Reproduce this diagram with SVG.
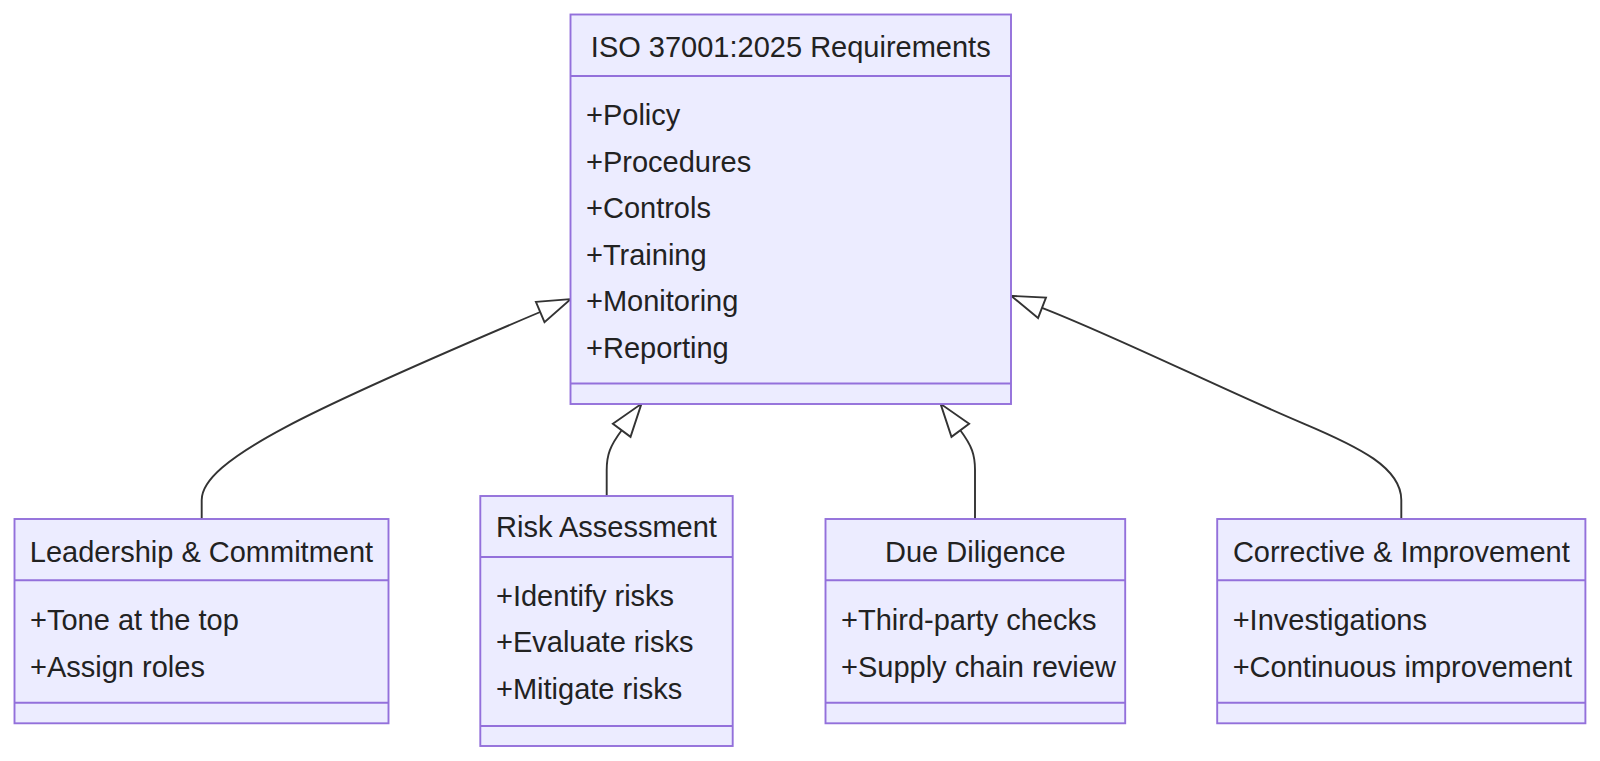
<svg xmlns="http://www.w3.org/2000/svg" width="1600" height="761" viewBox="0 0 1600 761">
<style>
.box{fill:#ECECFF;stroke:#9370DB;stroke-width:1.9}
.div{stroke:#9370DB;stroke-width:1.9}
.t{font-family:"Liberation Sans",Arial,sans-serif;font-size:29px;fill:#222}
.title{text-anchor:middle}
.edge{fill:none;stroke:#333;stroke-width:1.9}
</style>
<defs>
<marker id="ext" markerUnits="userSpaceOnUse" markerWidth="40" markerHeight="30" refX="2" refY="12" orient="auto" overflow="visible">
<path d="M2,1 L35,12 L2,23 Z" fill="#fff" stroke="#333" stroke-width="1.9" stroke-linejoin="miter"/>
</marker>
</defs>
<rect width="1600" height="761" fill="#fff"/>
<g id="connectors">
<path class="edge" d="M201.7,519 V500 C201.7,460 310.2,409.5 540.2,312" marker-end="url(#ext)"/>
<path class="edge" d="M606.7,496 V470 C606.7,455 610,446 621.7,430.3" marker-end="url(#ext)"/>
<path class="edge" d="M975,519 V470 C975,455 972,446 960.3,430.3" marker-end="url(#ext)"/>
<path class="edge" d="M1401.3,519 V500 C1401.3,468 1360,447.3 1303,423.3 C1223,389.7 1116.4,336.6 1042,307.8" marker-end="url(#ext)"/>
</g>
<g id="iso">
<rect class="box" x="570.5" y="14.5" width="440.5" height="389.5"/>
<line class="div" x1="570.5" y1="76" x2="1011" y2="76"/>
<line class="div" x1="570.5" y1="383.5" x2="1011" y2="383.5"/>
<text class="t title" x="790.75" y="56.7">ISO 37001:2025 Requirements</text>
<text class="t" x="586" y="125">+Policy</text>
<text class="t" x="586" y="171.5">+Procedures</text>
<text class="t" x="586" y="218">+Controls</text>
<text class="t" x="586" y="264.5">+Training</text>
<text class="t" x="586" y="311">+Monitoring</text>
<text class="t" x="586" y="357.5">+Reporting</text>
</g>
<g id="leadership">
<rect class="box" x="14.5" y="519" width="374" height="204.3"/>
<line class="div" x1="14.5" y1="580.3" x2="388.5" y2="580.3"/>
<line class="div" x1="14.5" y1="702.7" x2="388.5" y2="702.7"/>
<text class="t title" x="201.5" y="561.5">Leadership &amp; Commitment</text>
<text class="t" x="30" y="630">+Tone at the top</text>
<text class="t" x="30" y="676.5">+Assign roles</text>
</g>
<g id="risk">
<rect class="box" x="480.3" y="496" width="252.4" height="250"/>
<line class="div" x1="480.3" y1="557" x2="732.7" y2="557"/>
<line class="div" x1="480.3" y1="726" x2="732.7" y2="726"/>
<text class="t title" x="606.5" y="537.3">Risk Assessment</text>
<text class="t" x="496" y="606">+Identify risks</text>
<text class="t" x="496" y="652.3">+Evaluate risks</text>
<text class="t" x="496" y="698.6">+Mitigate risks</text>
</g>
<g id="duediligence">
<rect class="box" x="825.5" y="519" width="299.7" height="204.3"/>
<line class="div" x1="825.5" y1="580.3" x2="1125.2" y2="580.3"/>
<line class="div" x1="825.5" y1="702.7" x2="1125.2" y2="702.7"/>
<text class="t title" x="975.3" y="561.5">Due Diligence</text>
<text class="t" x="841" y="630">+Third-party checks</text>
<text class="t" x="841" y="676.5">+Supply chain review</text>
</g>
<g id="corrective">
<rect class="box" x="1217.2" y="519" width="368.2" height="204.3"/>
<line class="div" x1="1217.2" y1="580.3" x2="1585.4" y2="580.3"/>
<line class="div" x1="1217.2" y1="702.7" x2="1585.4" y2="702.7"/>
<text class="t title" x="1401.3" y="561.5">Corrective &amp; Improvement</text>
<text class="t" x="1232.7" y="630">+Investigations</text>
<text class="t" x="1232.7" y="676.5">+Continuous improvement</text>
</g>
</svg>
